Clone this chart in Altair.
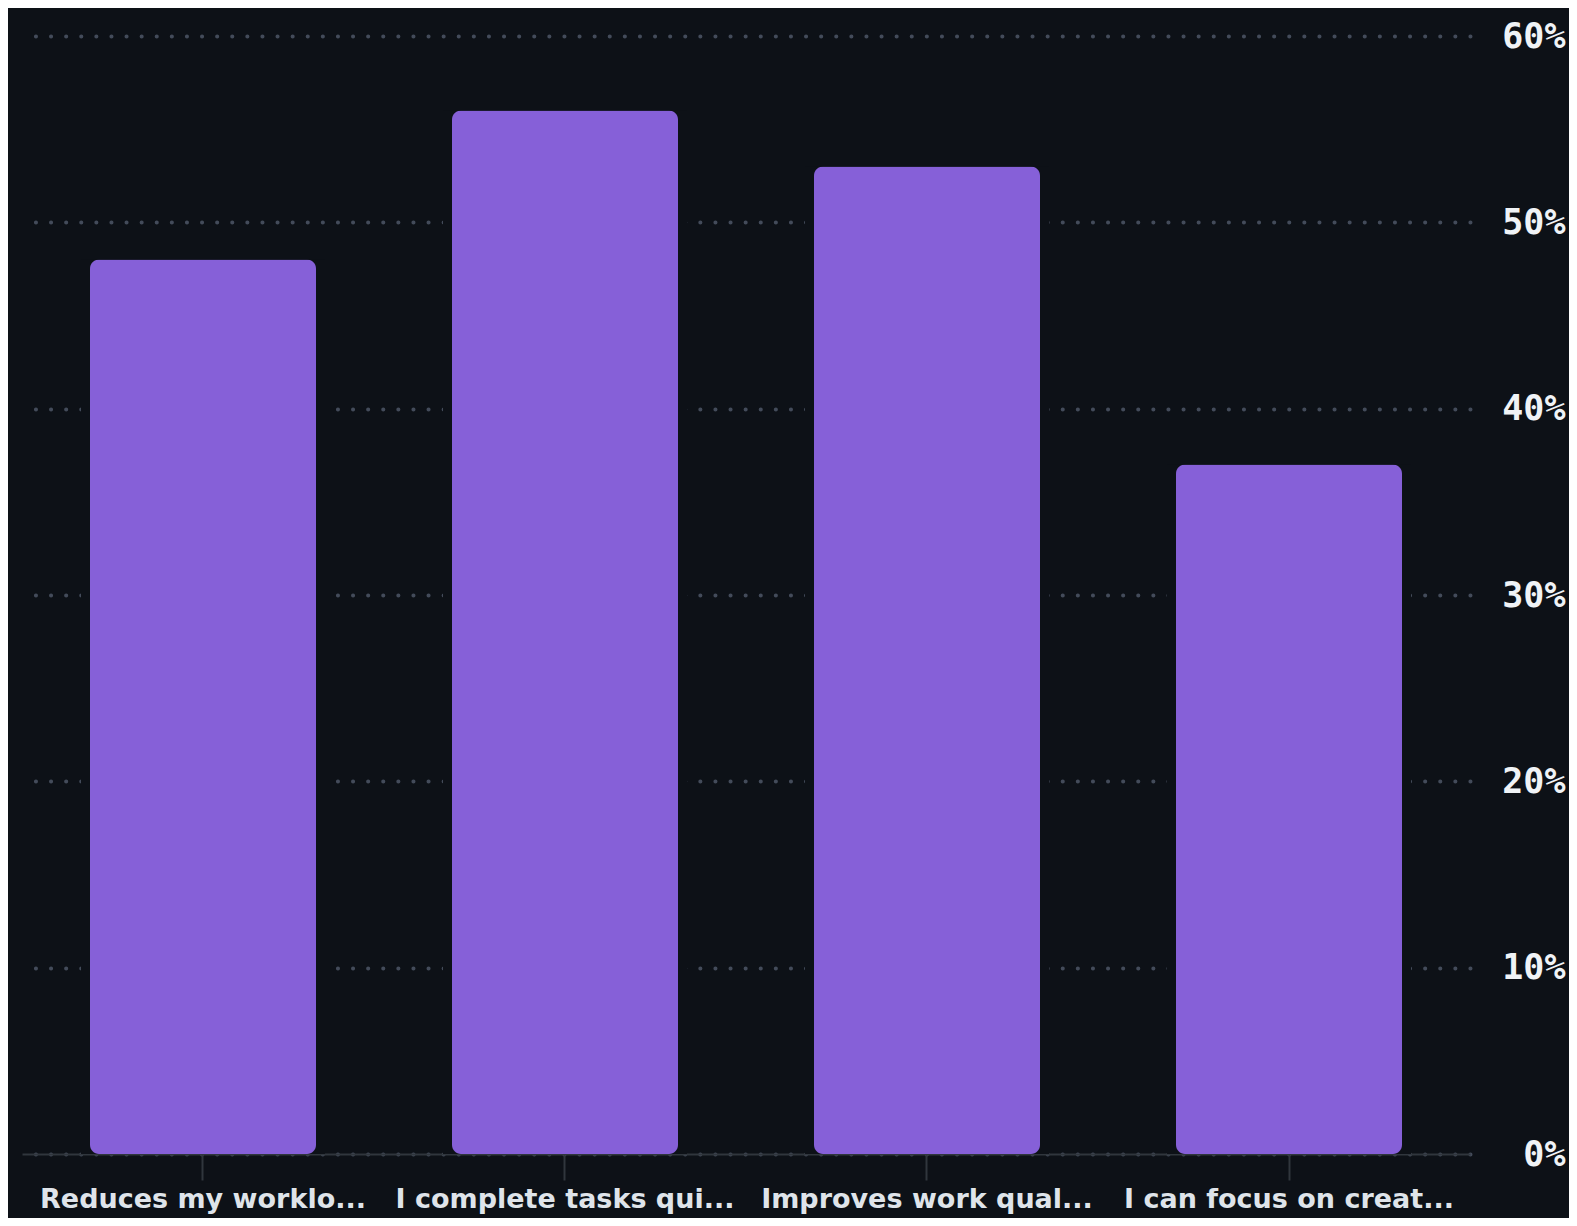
import altair as alt
import pandas as pd

categories = ["Reduces my worklo...", "I complete tasks qui...", "Improves work qual...", "I can focus on creat..."]
values = [48, 56, 53, 37]
y_ticks = [0, 10, 20, 30, 40, 50, 60]

BG = "#0d1117"
PURPLE = "#8660d8"
GRID = "#434b5a"
AXIS = "#30363d"

df = pd.DataFrame({"category": categories, "value": values})

base = alt.Chart(df).encode(
    x=alt.X(
        "category:N",
        sort=categories,
        title=None,
        scale=alt.Scale(paddingInner=0.376, paddingOuter=0.188),
        axis=alt.Axis(
            labelAngle=0,
            labelFont="DejaVu Sans",
            labelFontSize=27,
            labelFontWeight="bold",
            labelColor="#dfe4ea",
            labelPadding=6,
            labelLimit=400,
            tickSize=26,
            tickColor=AXIS,
            tickWidth=2,
            domainColor=AXIS,
            domainWidth=2,
            grid=False,
        ),
    ),
    y=alt.Y(
        "value:Q",
        title=None,
        scale=alt.Scale(domain=[0, 60], nice=False),
        axis=alt.Axis(
            orient="right",
            values=y_ticks,
            labelExpr="datum.value + '%'",
            labelFont="DejaVu Sans Mono",
            labelFontSize=35,
            labelFontWeight="bold",
            labelColor="#f0f3f6",
            labelAlign="right",
            labelBaseline="middle",
            labelPadding=95,
            ticks=False,
            domain=False,
            grid=True,
            gridColor=GRID,
            gridWidth=4,
            gridDash=[0.1, 15],
            gridCap="round",
        ),
    ),
)

chart = alt.layer(
    base.mark_bar(color=BG, size=244),
    base.mark_bar(color=PURPLE, size=226, cornerRadius=9),
).properties(
    width=1448,
    height=1118,
    background=BG,
    padding={"left": 14, "top": 28, "right": 99, "bottom": 64},
    autosize=alt.AutoSizeParams(type="none"),
).configure_view(stroke=None)

chart.save("out.html", embed_options={"renderer": "svg", "actions": False})
